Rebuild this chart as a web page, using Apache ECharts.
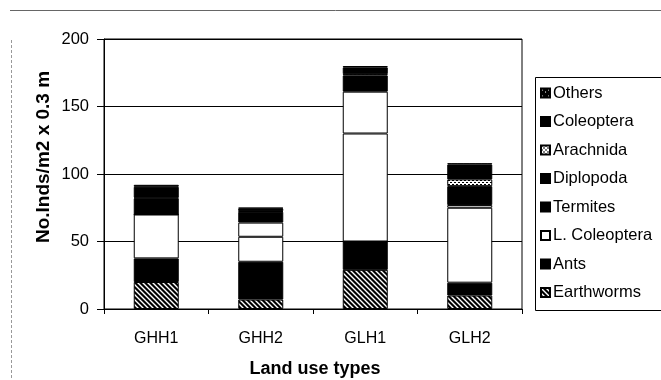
<!DOCTYPE html>
<html>
<head>
<meta charset="utf-8">
<script src="https://cdn.jsdelivr.net/npm/echarts@6/dist/echarts.min.js"></script>
<style>
  html, body { margin: 0; padding: 0; background: #fff; }
  #chart { width: 661px; height: 380px; }
</style>
</head>
<body>
<div id="chart"></div>
<script>
// Land use types on the x axis
const categories = ['GHH1', 'GHH2', 'GLH1', 'GLH2'];

// Individuals per m2 x 0.3 m, stacked bottom to top
const earthworms   = [20, 7, 29, 10];
const ants         = [17.5, 28, 21, 9.5];
const lColeoptera  = [32.5, 18.5, 80, 55.5];
const termites     = [0, 10.5, 31, 2];
const diplopoda    = [12, 8, 12, 14];
const arachnida    = [0.5, 0.5, 1, 5];
const coleoptera   = [8, 2, 5, 11];
const others       = [1.5, 0.5, 1, 1];

const yTicks = [0, 50, 100, 150, 200];

// Fill patterns
function makePattern(size, draw) {
  const c = document.createElement('canvas');
  c.width = size; c.height = size;
  const ctx = c.getContext('2d');
  draw(ctx, size);
  return { image: c, repeat: 'repeat' };
}
const hatch = makePattern(5, (ctx, s) => {
  ctx.fillStyle = '#000'; ctx.fillRect(0, 0, s, s);
  ctx.strokeStyle = '#fff'; ctx.lineWidth = 1.4;
  ctx.beginPath();
  ctx.moveTo(-1, -1); ctx.lineTo(s + 1, s + 1);
  ctx.moveTo(-1, s - 1); ctx.lineTo(1, s + 1);
  ctx.moveTo(s - 1, -1); ctx.lineTo(s + 1, 1);
  ctx.stroke();
});
const dotted = makePattern(4, (ctx, s) => {
  ctx.fillStyle = '#fff'; ctx.fillRect(0, 0, s, s);
  ctx.fillStyle = '#000';
  ctx.fillRect(0, 0, 2, 1); ctx.fillRect(2, 2, 2, 1);
});
const speckled = makePattern(6, (ctx, s) => {
  ctx.fillStyle = '#000'; ctx.fillRect(0, 0, s, s);
  ctx.fillStyle = '#fff';
  ctx.fillRect(1, 1, 1, 1); ctx.fillRect(4, 3, 1, 1);
});

const seriesDefs = [
  { name: 'Earthworms', data: earthworms, color: hatch },
  { name: 'Ants', data: ants, color: '#000' },
  { name: 'L. Coleoptera', data: lColeoptera, color: '#fff' },
  { name: 'Termites', data: termites, color: '#fff' },
  { name: 'Diplopoda', data: diplopoda, color: '#000' },
  { name: 'Arachnida', data: arachnida, color: dotted },
  { name: 'Coleoptera', data: coleoptera, color: '#000' },
  { name: 'Others', data: others, color: speckled }
];

const font = 'Liberation Sans, Arial, sans-serif';

const chart = echarts.init(document.getElementById('chart'), null, { renderer: 'canvas' });
chart.setOption({
  animation: false,
  backgroundColor: '#fff',
  textStyle: { fontFamily: font },
  grid: {
    left: 104, right: 139, top: 39, bottom: 71,
    show: true, borderColor: '#000', borderWidth: 1
  },
  xAxis: {
    type: 'category',
    data: categories,
    axisLine: { lineStyle: { color: '#000', width: 1 } },
    axisTick: { show: true, length: 5, inside: false, lineStyle: { color: '#000' } },
    axisLabel: { color: '#000', fontSize: 16, margin: 22, fontFamily: font },
    splitLine: { show: false }
  },
  yAxis: {
    type: 'value',
    min: 0, max: 200, interval: 50,
    axisLine: { show: true, lineStyle: { color: '#000', width: 1 } },
    axisTick: { show: true, length: 7, lineStyle: { color: '#000' } },
    axisLabel: {
      color: '#000', fontSize: 16.5, margin: 15, fontFamily: font,
      formatter: v => (yTicks.includes(v) ? String(v) : '')
    },
    splitLine: { show: true, lineStyle: { color: '#000', width: 1 } }
  },
  legend: {
    orient: 'vertical',
    left: 540, top: 84.5,
    padding: 0,
    itemWidth: 9, itemHeight: 9,
    itemGap: 11.5,
    icon: 'rect',
    textStyle: { color: '#000', fontSize: 16.5, fontFamily: font, lineHeight: 17, padding: [0, 0, 0, -2] },
    data: [
      { name: 'Others' },
      { name: 'Coleoptera' },
      { name: 'Arachnida' },
      { name: 'Diplopoda' },
      { name: 'Termites', itemStyle: { color: '#000' } },
      { name: 'L. Coleoptera' },
      { name: 'Ants' },
      { name: 'Earthworms' }
    ]
  },
  graphic: [
    // legend frame
    { type: 'rect', shape: { x: 535.5, y: 77.5, width: 140, height: 233 },
      style: { fill: 'none', stroke: '#000', lineWidth: 1 }, z: 0 },
    // outer frame lines
    { type: 'line', shape: { x1: 10, y1: 10.5, x2: 661, y2: 10.5 },
      style: { stroke: '#666', lineWidth: 1 } },
    { type: 'line', shape: { x1: 11.5, y1: 40, x2: 11.5, y2: 380 },
      style: { stroke: '#999', lineWidth: 1, lineDash: [3, 2] } },
    // axis titles
    { type: 'text', x: 315, y: 369,
      style: { text: 'Land use types', font: 'bold 18px ' + font, fill: '#000',
        textAlign: 'center', textVerticalAlign: 'middle' } },
    { type: 'text', x: 44, y: 157, rotation: Math.PI / 2,
      style: { text: 'No.Inds/m2 x 0.3 m', font: 'bold 19px ' + font, fill: '#000',
        textAlign: 'center', textVerticalAlign: 'middle' } }
  ],
  series: seriesDefs.map(d => ({
    name: d.name,
    type: 'bar',
    stack: 'total',
    barWidth: 45,
    data: d.data,
    itemStyle: { color: d.color, borderColor: '#000', borderWidth: 1 },
    emphasis: { disabled: true }
  }))
});
</script>
</body>
</html>
